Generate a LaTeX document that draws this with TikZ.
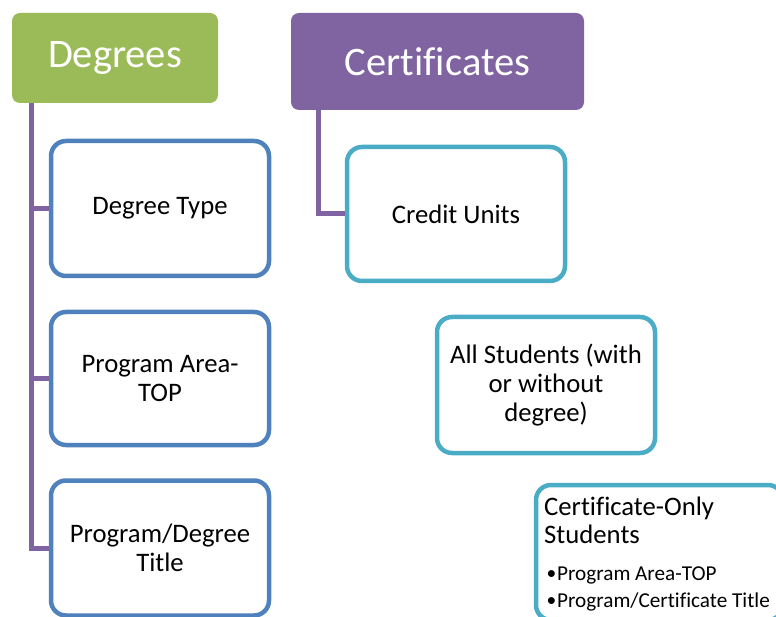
\documentclass[tikz,border=0pt]{standalone}
\usepackage{fontspec}
\setmainfont[Ligatures=NoCommon]{Carlito}
\definecolor{dgreen}{HTML}{9BBB59}
\definecolor{cpurple}{HTML}{8064A2}
\definecolor{dblue}{HTML}{4F81BD}
\definecolor{cteal}{HTML}{4BACC6}
\newcommand{\smallbul}{\makebox[10.5pt][l]{\raisebox{0.8pt}{\fontsize{19.5}{19.5}\selectfont •}}}
\begin{document}
\begin{tikzpicture}[x=1pt,y=-1pt,
  titlebox/.style={rectangle, rounded corners=8pt, inner sep=0pt, text=white,
    font=\fontsize{40.5}{44}\selectfont},
  itembox/.style={rectangle, fill=white, line width=4.5pt, rounded corners=15pt,
    minimum width=218pt, minimum height=135pt, inner sep=0pt, align=center,
    font=\fontsize{26.7}{29}\selectfont},
  dbox/.style={itembox, draw=dblue},
  cbox/.style={itembox, draw=cteal},
  conn/.style={draw=cpurple, line width=5pt},
  linetext/.style={anchor=base west, inner sep=0pt}]
\useasboundingbox (0,0) rectangle (776,617);
\clip (0,0) rectangle (776,617);

% titles
\node[titlebox, fill=dgreen, minimum width=206pt, minimum height=90pt] (deg) at (115,58) {Degrees};
\node[titlebox, fill=cpurple, minimum width=293pt, minimum height=97pt] (cert) at (437.5,61.5) {Certificates};

% degree items
\node[dbox] (dtype) at (160,208.5) {Degree Type};
\node[dbox, minimum height=133pt] (darea) at (160,378.5) {Program Area-\\TOP};
\node[dbox] (dtitle) at (160,548) {Program/Degree\\Title};

% certificate items
\node[cbox, minimum height=134pt] (credit) at (456,214) {Credit Units};
\node[cbox, minimum height=136pt] (allst) at (546,385) {All Students (with\\or without\\degree)};
\node[cbox, minimum width=247pt] (conly) at (659.5,552.5) {};
\node[linetext, font=\fontsize{26.7}{28}\selectfont] (conly1) at (544,515) {Certificate-Only};
\node[linetext, font=\fontsize{26.7}{28}\selectfont] (conly2) at (544,543) {Students};
\node[linetext, font=\fontsize{21.2}{24}\selectfont] (conly3) at (546.5,580) {\smallbul Program Area-TOP};
\node[linetext, font=\fontsize{21.2}{24}\selectfont] (conly4) at (546.5,607) {\smallbul Program/Certificate Title};

% connectors
\coordinate (dtop) at (31,103);
\draw[conn] (dtop) |- (dtitle.west);
\draw[conn] (dtop |- dtype.west) -- (dtype.west);
\draw[conn] (dtop |- darea.west) -- (darea.west);
\coordinate (ctop) at (318,110);
\draw[conn] (ctop) |- (credit.west);
\end{tikzpicture}
\end{document}
